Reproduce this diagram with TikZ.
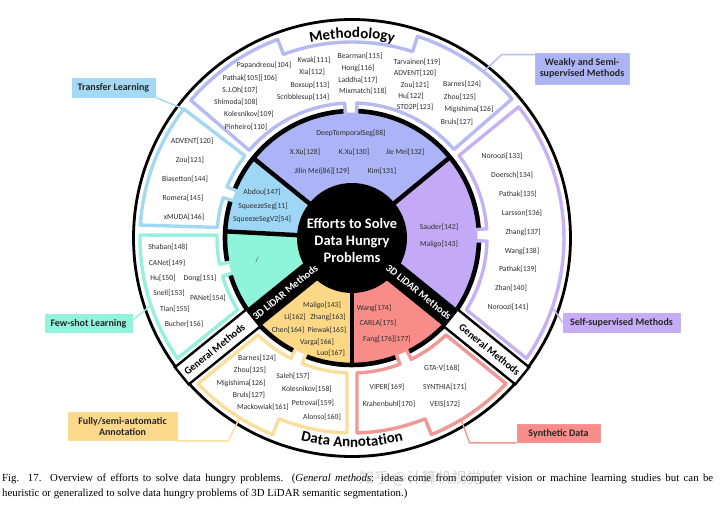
\documentclass[tikz,border=0pt]{standalone}
\usepackage{fontspec}
\setmainfont{Carlito}
\newfontfamily\capfont{Liberation Serif}
\newfontfamily\cjkfont{Noto Sans CJK SC}
\usetikzlibrary{calc,decorations.text}
\definecolor{inTop}{RGB}{170,180,246}
\definecolor{inLB}{RGB}{158,214,246}
\definecolor{inTeal}{RGB}{142,245,218}
\definecolor{inPur}{RGB}{196,170,246}
\definecolor{inYel}{RGB}{252,216,134}
\definecolor{inRed}{RGB}{248,140,136}
\definecolor{olTop}{RGB}{182,186,240}
\definecolor{olLB}{RGB}{164,216,242}
\definecolor{olTeal}{RGB}{150,240,222}
\definecolor{olPur}{RGB}{198,178,242}
\definecolor{olYel}{RGB}{250,222,156}
\definecolor{olRed}{RGB}{240,152,150}
\definecolor{boxLB}{RGB}{163,217,245}
\definecolor{boxTop}{RGB}{171,180,245}
\definecolor{boxPur}{RGB}{198,172,245}
\definecolor{boxTeal}{RGB}{145,243,218}
\definecolor{boxYel}{RGB}{252,216,138}
\definecolor{boxRed}{RGB}{247,140,138}
\begin{document}
\begin{tikzpicture}[x=1pt,y=1pt,
  ref/.style={font=\fontsize{7.7}{8}\selectfont,inner sep=0pt,text=black!82},
  ol/.style={line width=3.4pt,line join=round,line cap=round},
  tagbox/.style={font=\bfseries\fontsize{10}{11.5}\selectfont,inner sep=0pt,align=center,text=black!85},
  conn/.style={line width=1.4pt,line join=round},
  bartext/.style={font=\bfseries\fontsize{10.4}{10}\selectfont,inner sep=0pt}]
\useasboundingbox (0,0) rectangle (720,-510);
\fill[white] (0,0) rectangle (720,-510);
\coordinate (C) at (352,-238);
% inner sectors
\foreach \col/\a/\b in {inTop/39.5/141, inLB/141/177, inTeal/177/219, inYel/219/270, inRed/270/321, inPur/-39/39.5}
  \fill[\col] ($(C)+(\a:50)$) arc[start angle=\a,end angle=\b,radius=50] -- ($(C)+(\b:125.5)$) arc[start angle=\b,end angle=\a,radius=125.5] -- cycle;
\fill[black] (C) circle (55);
\foreach \a in {39.5,141,177,270}
  \draw[line width=4.4pt] ($(C)+(\a:50)$) -- ($(C)+(\a:127)$);
% ring with gaps
\foreach \a/\b in {4.3/87.5, 93.5/157.2, 163.2/190.8, 196.8/242.7, 248.7/290.4, 296.4/358.3}
  \draw[line width=4.6pt] ($(C)+(\a:127)$) arc[start angle=\a,end angle=\b,radius=127];
% outer region outlines
\draw[ol,olTop] ($(C)+(93.1:124)$) -- ($(C)+(93.1:135)$) arc[start angle=93.1,end angle=139.5,radius=135]
  -- ($(C)+(139.5:212)$) arc[start angle=139.5,end angle=110.5,radius=212]
  -- ($(C)+(110.5:196)$) arc[start angle=110.5,end angle=72,radius=196]
  -- ($(C)+(72:212)$) arc[start angle=72,end angle=41,radius=212]
  -- ($(C)+(41:135)$) arc[start angle=41,end angle=87.9,radius=135] -- ($(C)+(87.9:124)$);
\draw[ol,olLB] ($(C)+(162.6:124)$) -- ($(C)+(162.6:135)$) arc[start angle=162.6,end angle=175.5,radius=135]
  -- ($(C)+(176.5:212)$) arc[start angle=176.5,end angle=142.5,radius=212]
  -- ($(C)+(142.5:135)$) arc[start angle=142.5,end angle=157.8,radius=135] -- ($(C)+(157.8:124)$);
\draw[ol,olTeal] ($(C)+(196.4:124)$) -- ($(C)+(196.4:135)$) arc[start angle=196.4,end angle=212.1,radius=135]
  -- ($(C)+(214.6:212)$) arc[start angle=214.6,end angle=179.2,radius=212]
  -- ($(C)+(178.8:135)$) arc[start angle=178.8,end angle=191.2,radius=135] -- ($(C)+(191.2:124)$);
\draw[ol,olPur] ($(C)+(3.9:124)$) -- ($(C)+(3.9:135)$) arc[start angle=3.9,end angle=37.6,radius=135]
  -- ($(C)+(38.2:212)$) arc[start angle=38.2,end angle=-34.6,radius=212]
  -- ($(C)+(-32.1:135)$) arc[start angle=-32.1,end angle=-1.3,radius=135] -- ($(C)+(-1.3:124)$);
\draw[ol,olYel] ($(C)+(243.1:124)$) -- ($(C)+(243.1:135)$) arc[start angle=243.1,end angle=225.9,radius=135]
  -- ($(C)+(223.4:212)$) arc[start angle=223.4,end angle=248,radius=212]
  -- ($(C)+(248:195)$) arc[start angle=248,end angle=268.53,radius=195]
  -- ($(C)+(267.88:135)$) arc[start angle=267.88,end angle=248.3,radius=135] -- ($(C)+(248.3:124)$);
\draw[ol,olRed] ($(C)+(290.8:124)$) -- ($(C)+(290.8:135)$) arc[start angle=290.8,end angle=272.12,radius=135]
  -- ($(C)+(271.47:195)$) arc[start angle=271.47,end angle=292,radius=195]
  -- ($(C)+(292:212)$) arc[start angle=292,end angle=316.6,radius=212]
  -- ($(C)+(314.1:135)$) arc[start angle=314.1,end angle=296,radius=135] -- ($(C)+(296:124)$);
% outer circle and bars
\draw[line width=2.8pt] (C) circle (218.5);
\foreach \ang in {219,321}{
  \begin{scope}[shift={(C)},rotate=\ang]
    \fill[black] (0,-11) rectangle (127,11);
    \draw[line width=2.4pt,fill=white] (127,-11) rectangle (219,11);
  \end{scope}}
\node[bartext,text=white,rotate=39] (bl1) at ($(C)+(219:86)$) {3D LiDAR Methods};
\node[bartext,text=white,rotate=-39] (br1) at ($(C)+(321:86)$) {3D LiDAR Methods};
\node[bartext,rotate=39] (bl2) at ($(C)+(219:177)$) {General Methods};
\node[bartext,rotate=-39] (br2) at ($(C)+(321:177)$) {General Methods};
% centre
\node[font=\bfseries\fontsize{14.5}{17}\selectfont,text=white,align=center,inner sep=0pt] (ctr) at (352,-240) {Efforts to Solve\\Data Hungry\\Problems};
% titles along arcs
\path[decorate,decoration={text along path,text align=center,text={|\bfseries\fontsize{15}{15}\selectfont|Methodology}}]
  ($(C)+(125:200)$) arc[start angle=125,end angle=55,radius=200];
\path[decorate,decoration={text along path,text align=center,text={|\bfseries\fontsize{15}{15}\selectfont|Data Annotation}}]
  ($(C)+(235:209)$) arc[start angle=235,end angle=305,radius=209];
% references
\foreach \x/\y/\txt [count=\i] in {264/65/Papandreou[104], 250/78/Pathak[105][106], 240/90/S.J.Oh[107], 236/102/Shimoda[108], 249/114/Kolesnikov[109], 246/127/Pinheiro[110], 314/60/Kwak[111], 312/72/Xia[112], 310/85/Boxsup[113], 303/97/Scribblesup[114], 360/56/Bearman[115], 358/68/Hong[116], 358/80/Laddha[117], 363/91/Mixmatch[118], 417/62/Tarvainen[119], 415/73/ADVENT[120], 415/85/Zou[121], 411/96/Hu[122], 415/107/STD2P[123], 462/84/Barnes[124], 460/97/Zhou[125], 469/109/Migishima[126], 457/122/Bruls[127]}
  \node[ref] (a\i) at (\x,-\y) {\txt};
\foreach \x/\y/\txt [count=\i] in {351/133/DeepTemporalSeg[88], 305/152/X.Xu[128], 354/152/K.Xu[130], 405/152/Jie Mei[132], 322/171/Jilin Mei[86][129], 382/171/Kim[131], 262/192/Abdou[147], 263/206/SqueezeSeg[11], 262/219/SqueezeSegV2[54], 439/227/Sauder[142], 439/244/Maligo[143]}
  \node[ref] (b\i) at (\x,-\y) {\txt};
\node[ref] (slash) at (257,-260) {/};
\foreach \x/\y/\txt [count=\i] in {322/305/Maligo[143], 295/317/Li[162], 328/317/Zhang[163], 288/330/Chen[164], 327/330/Piewak[165], 317/342/Varga[166], 331/353/Luo[167], 374/308/Wang[174], 378/323/CARLA[175], 387/339/Fang[176][177]}
  \node[ref] (c\i) at (\x,-\y) {\txt};
\foreach \x/\y/\txt [count=\i] in {192/141/ADVENT[120], 190/160/Zou[121], 185/179/Biasetton[144], 183/198/Romera[145], 184/217/xMUDA[146], 168/247/Shaban[148], 167/263/CANet[149], 163/278/Hu[150], 200/278/Dong[151], 169/293/Snell[153], 208/298/PANet[154], 175/309/Tian[155], 184/324/Bucher[156]}
  \node[ref] (d\i) at (\x,-\y) {\txt};
\foreach \x/\y/\txt [count=\i] in {502/156/Noroozi[133], 512/175/Doersch[134], 518/194/Pathak[135], 522/213/Larsson[136], 523/232/Zhang[137], 522/251/Wang[138], 518/269/Pathak[139], 511/288/Zhan[140], 508/307/Noroozi[141]}
  \node[ref] (e\i) at (\x,-\y) {\txt};
\foreach \x/\y/\txt [count=\i] in {257/358/Barnes[124], 250/370/Zhou[125], 241/383/Migishima[126], 249/395/Bruls[127], 263/407/Mackowiak[161], 293/376/Saleh[157], 307/389/Kolesnikov[158], 313/403/Petrovai[159], 322/417/Alonso[160], 442/368/GTA-V[168], 387/387/VIPER[169], 445/387/SYNTHIA[171], 389/404/Krahenbuhl[170], 445/404/VEIS[172]}
  \node[ref] (f\i) at (\x,-\y) {\txt};
% label boxes
\coordinate (tlE) at ($(C)+(142.5:212)$);
\coordinate (wsE) at ($(C)+(51.7:212)$);
\coordinate (ssE) at ($(C)+(-19:212)$);
\coordinate (fsE) at ($(C)+(198.5:212)$);
\coordinate (faE) at ($(C)+(238:212)$);
\coordinate (sdE) at ($(C)+(-59:212)$);
\node[tagbox,fill=boxLB,draw=olLB,line width=0.8pt,minimum width=83pt,minimum height=19pt] (tl) at (113.5,-87.5) {Transfer Learning};
\node[tagbox,fill=boxTop,draw=olTop,line width=0.8pt,minimum width=94pt,minimum height=31pt] (ws) at (582,-68.5) {Weakly and Semi-\\supervised Methods};
\node[tagbox,fill=boxPur,draw=olPur,line width=0.8pt,minimum width=117pt,minimum height=19pt] (ss) at (621.5,-322.5) {Self-supervised Methods};
\node[tagbox,fill=boxTeal,draw=olTeal,line width=0.8pt,minimum width=87pt,minimum height=18pt] (fs) at (88.5,-323.5) {Few-shot Learning};
\node[tagbox,fill=boxYel,draw=olYel,line width=0.8pt,minimum width=109pt,minimum height=28pt] (fa) at (122.5,-426.5) {Fully/semi-automatic\\Annotation};
\node[tagbox,fill=boxRed,draw=olRed,line width=0.8pt,minimum width=83pt,minimum height=18pt] (sd) at (558.5,-433.5) {Synthetic Data};
\draw[conn,olLB] (tl.south east) -- (tlE);
\draw[conn,olTop] ([yshift=-2pt]ws.north west) -- ++(-33,0) -- (wsE);
\draw[conn,olPur] (ss.west) -- (ssE);
\draw[conn,olTeal] ([yshift=3pt]fs.east) -- (fsE);
\draw[conn,olYel] (fa.south east) -- ++(51,0) -- (faE);
\draw[conn,olRed] (sd.south west) -- ++(-47,0) -- (sdE);
% caption
\node[anchor=base west,inner sep=0pt,font=\capfont\fontsize{10.8}{12}\selectfont] (cap1) at (2,-481) {\makebox[711pt][s]{Fig. 17.\ \ Overview of efforts to solve data hungry problems. (\textit{General methods}: ideas come from computer vision or machine learning studies but can be}};
\node[anchor=base west,inner sep=0pt,font=\capfont\fontsize{10.8}{12}\selectfont] (cap2) at (2,-496) {heuristic or generalized to solve data hungry problems of 3D LiDAR semantic segmentation.)};
\node[font=\cjkfont\fontsize{15}{15}\selectfont,text=gray,opacity=0.35,inner sep=0pt] (wm) at (431,-478) {知乎 @计算机视觉life};
\end{tikzpicture}
\end{document}
